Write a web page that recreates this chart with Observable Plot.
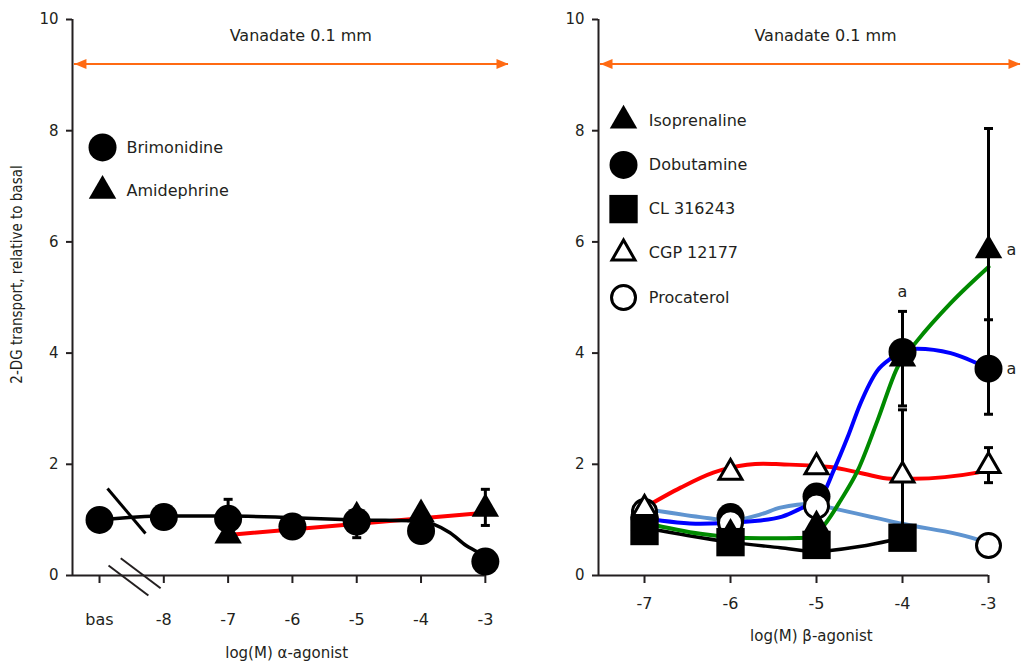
<!DOCTYPE html>
<html><head><meta charset="utf-8">
<script src="https://cdn.jsdelivr.net/npm/d3@7"></script>
<script src="https://cdn.jsdelivr.net/npm/@observablehq/plot@0.6"></script>
<style>
body{margin:0;background:#fff;}
#wrap{position:relative;width:1022px;height:671px;overflow:hidden;}
#left{position:absolute;left:0;top:0;}
#right{position:absolute;left:520px;top:0;}
</style></head><body><div id="wrap"><div id="left"></div><div id="right"></div></div>
<script>
// ---------------- shared ----------------
const yTicks = [0, 2, 4, 6, 8, 10];
const vanadateLabel = "Vanadate 0.1 mm";
const yAxisLabel = "2-DG transport, relative to basal";

// ---------------- left panel: α-agonists ----------------
const alphaTicks = [-9, -8, -7, -6, -5, -4, -3];
const alphaTickLabels = ["bas", "-8", "-7", "-6", "-5", "-4", "-3"];
const alphaXLabel = "log(M) α-agonist";
const alphaLegend = ["Brimonidine", "Amidephrine"];

const brimLogM = [-9, -8, -7, -6, -5, -4, -3];
const brimValue = [1.0, 1.05, 1.02, 0.88, 0.97, 0.8, 0.25];
const brimErrLow = [null, null, 1.02, null, 0.68, null, null];
const brimErrHigh = [null, null, 1.37, null, 0.97, null, null];

const amidLogM = [-7, -5, -4, -3];
const amidValue = [0.72, 1.06, 1.1, 1.2];
const amidErrLow = [null, null, null, 0.9];
const amidErrHigh = [null, null, null, 1.55];

const brimFitLogM = [-9, -8, -7, -6, -5, -4, -3.8, -3.55, -3.3, -3.1, -3];
const brimFitValue = [1.0, 1.07, 1.07, 1.04, 1.0, 0.98, 0.92, 0.77, 0.54, 0.4, 0.3];
const amidFitLogM = [-7, -3];
const amidFitValue = [0.73, 1.13];

// ---------------- right panel: β-agonists ----------------
const betaTicks = [-7, -6, -5, -4, -3];
const betaXLabel = "log(M) β-agonist";
const betaLegend = ["Isoprenaline", "Dobutamine", "CL 316243", "CGP 12177", "Procaterol"];

const isoLogM = [-7, -6, -5, -4, -3];
const isoValue = [0.95, 0.75, 0.9, 3.9, 5.85];
const isoErrLow = [null, null, null, 3.05, 3.65];
const isoErrHigh = [null, null, null, 4.75, 8.04];

const dobLogM = [-7, -6, -5, -4, -3];
const dobValue = [1.05, 1.05, 1.42, 4.02, 3.72];
const dobErrLow = [null, null, null, null, 2.9];
const dobErrHigh = [null, null, null, null, 4.6];

const clLogM = [-7, -6, -5, -4];
const clValue = [0.8, 0.6, 0.55, 0.68];
const clErrLow = [null, null, null, 0.68];
const clErrHigh = [null, null, null, 2.98];

const cgpLogM = [-7, -6, -5, -4, -3];
const cgpValue = [1.2, 1.85, 1.95, 1.8, 1.97];
const cgpErrLow = [null, null, null, null, 1.67];
const cgpErrHigh = [null, null, null, null, 2.3];

const procLogM = [-7, -6, -5, -3];
const procValue = [1.15, 0.95, 1.25, 0.54];

const isoFitLogM = [-7, -6.35, -5.65, -5.07, -4.87, -4.72, -4.52, -4.29, -4.06, -3.83, -3.44, -3];
const isoFitValue = [0.95, 0.75, 0.67, 0.68, 0.99, 1.35, 1.89, 2.79, 3.74, 4.22, 4.9, 5.55];
const dobFitLogM = [-7, -6.35, -5.65, -5.4, -5.19, -4.95, -4.8, -4.64, -4.49, -4.29, -4.14, -3.83, -3.44, -3];
const dobFitValue = [1.03, 0.93, 0.99, 1.06, 1.2, 1.4, 1.89, 2.48, 3.09, 3.69, 3.9, 4.08, 4.0, 3.72];
const clFitLogM = [-7, -6.5, -6, -5.42, -5, -4.84, -4.5, -4.14, -4];
const clFitValue = [0.86, 0.72, 0.6, 0.5, 0.43, 0.45, 0.52, 0.63, 0.68];
const cgpFitLogM = [-7, -6.58, -6.2, -6, -5.62, -5.42, -4.84, -4.45, -4.14, -3.87, -3.13, -3];
const cgpFitValue = [1.22, 1.58, 1.85, 1.94, 2.01, 2.0, 1.95, 1.83, 1.74, 1.74, 1.85, 1.89];
const procFitLogM = [-7, -6.35, -6, -5.65, -5.42, -5.03, -4.84, -4, -3.1, -3];
const procFitValue = [1.2, 1.05, 0.99, 1.1, 1.22, 1.29, 1.22, 0.93, 0.63, 0.57];

const sigLogM = [-4, -3, -3];
const sigValue = [4.75, 5.85, 3.72];
const sigText = ["a", "a", "a"];

// ---------------- helpers ----------------
const ink = "#231f20";
const font = "DejaVu Sans";
const zip = (xs, ys, lo, hi) => xs.map((x, i) => ({x, y: ys[i], lo: lo ? lo[i] : null, hi: hi ? hi[i] : null}));
const errs = rows => rows.filter(d => d.lo != null);

const capSymbol = {draw(c) { c.moveTo(-4.5, 0); c.lineTo(4.5, 0); }};
const headLeft = {draw(c) { c.moveTo(0, 0); c.lineTo(12, -5); c.lineTo(12, 5); c.closePath(); }};
const headRight = {draw(c) { c.moveTo(0, 0); c.lineTo(-12, -5); c.lineTo(-12, 5); c.closePath(); }};

const sty = {
  filledCircle: {symbol: "circle", r: 14, fill: "black", stroke: "none"},
  filledTriangle: {symbol: "triangle", r: 10.2, fill: "black", stroke: "none"},
  filledSquare: {symbol: "square", r: 16, fill: "black", stroke: "none"},
  openTriangle: {symbol: "triangle", r: 8.5, fill: "white", stroke: "black", strokeWidth: 3},
  openCircle: {symbol: "circle", r: 12, fill: "white", stroke: "black", strokeWidth: 3}
};

function errMarks(rows) {
  return [
    Plot.ruleX(rows, {x: "x", y1: "lo", y2: "hi", stroke: "black", strokeWidth: 3}),
    Plot.dot(rows, {x: "x", y: "hi", symbol: capSymbol, r: 1, fill: "none", stroke: "black", strokeWidth: 3}),
    Plot.dot(rows, {x: "x", y: "lo", symbol: capSymbol, r: 1, fill: "none", stroke: "black", strokeWidth: 3})
  ];
}
function fit(xs, ys, color, w) {
  return Plot.line(zip(xs, ys), {x: "x", y: "y", stroke: color, strokeWidth: w, curve: "monotone-x"});
}
function frameMarks(xmin, xAxisEnd, ticks, tickFmt, tickPad) {
  return [
    Plot.ruleX([{x: xmin, y1: 0, y2: 10}], {x: "x", y1: "y1", y2: "y2", stroke: ink, strokeWidth: 2}),
    Plot.ruleY([{y: 0, x1: xmin, x2: xAxisEnd}], {y: "y", x1: "x1", x2: "x2", stroke: ink, strokeWidth: 2}),
    Plot.axisY({ticks: yTicks, tickSize: 6, tickPadding: 8, fontSize: 15, strokeWidth: 2, stroke: ink, label: null}),
    Plot.axisX({ticks, tickFormat: tickFmt, tickSize: 8, tickPadding: tickPad, fontSize: 16, strokeWidth: 2, stroke: ink, label: null})
  ];
}
function arrowMarks(x1, x2) {
  return [
    Plot.ruleY([{y: 9.2, x1, x2}], {y: "y", x1: "x1", x2: "x2", stroke: "#ff6a13", strokeWidth: 2}),
    Plot.dot([{x: x1, y: 9.2}], {x: "x", y: "y", symbol: headLeft, r: 1, fill: "#ff6a13", stroke: "none"}),
    Plot.dot([{x: x2, y: 9.2}], {x: "x", y: "y", symbol: headRight, r: 1, fill: "#ff6a13", stroke: "none"})
  ];
}

// ---------------- left plot ----------------
const brim = zip(brimLogM, brimValue, brimErrLow, brimErrHigh);
const amid = zip(amidLogM, amidValue, amidErrLow, amidErrHigh);
const alphaDomain = [-9.42, -2.64];
const alphaLegendRows = alphaLegend.map((t, i) => ({t, y: 7.7 - i * 0.78}));

const left = Plot.plot({
  width: 520, height: 671,
  marginTop: 19, marginBottom: 96, marginLeft: 72, marginRight: 12,
  style: {fontFamily: font, color: ink, background: "white", overflow: "visible"},
  x: {domain: alphaDomain},
  y: {domain: [0, 10]},
  marks: [
    ...frameMarks(alphaDomain[0], -3, alphaTicks, d => alphaTickLabels[alphaTicks.indexOf(d)], 30),
    Plot.text([vanadateLabel], {x: () => -5.87, text: d => d, frameAnchor: "top", dy: 10, fontSize: 16, fill: ink}),
    ...arrowMarks(-9.39, alphaDomain[1]),
    Plot.text([yAxisLabel], {text: d => d, frameAnchor: "left", textAnchor: "middle", rotate: -90, dx: -55, dy: -23, fontSize: 15, fontFamily: "'DejaVu Sans Condensed', 'Liberation Sans Narrow', 'DejaVu Sans'", fontStretch: "condensed", fill: ink}),
    Plot.text([alphaXLabel], {x: () => -6.09, text: d => d, frameAnchor: "bottom", dy: 82, fontSize: 15, fill: ink}),
    // axis break marks
    Plot.link([{x1: -8.876, y1: 1.565, x2: -8.285, y2: 0.755}], {x1: "x1", y1: "y1", x2: "x2", y2: "y2", stroke: "black", strokeWidth: 3}),
    Plot.link([{x1: -8.86, y1: 0.18, x2: -8.24, y2: -0.36}, {x1: -8.67, y1: 0.31, x2: -8.05, y2: -0.23}], {x1: "x1", y1: "y1", x2: "x2", y2: "y2", stroke: ink, strokeWidth: 2}),
    fit(amidFitLogM, amidFitValue, "#ff0000", 4),
    fit(brimFitLogM, brimFitValue, "black", 3.5),
    ...errMarks(errs(brim)),
    ...errMarks(errs(amid)),
    Plot.dot(amid, {x: "x", y: "y", ...sty.filledTriangle}),
    Plot.dot(brim, {x: "x", y: "y", ...sty.filledCircle}),
    // legend
    Plot.dot(alphaLegendRows.slice(0, 1), {x: () => -8.953, y: "y", ...sty.filledCircle}),
    Plot.dot(alphaLegendRows.slice(1, 2), {x: () => -8.953, y: "y", ...sty.filledTriangle}),
    Plot.text(alphaLegendRows, {x: () => -8.58, y: "y", text: "t", textAnchor: "start", fontSize: 16, fill: ink})
  ]
});
document.getElementById("left").append(left);

// ---------------- right plot ----------------
const iso = zip(isoLogM, isoValue, isoErrLow, isoErrHigh);
const dob = zip(dobLogM, dobValue, dobErrLow, dobErrHigh);
const cl = zip(clLogM, clValue, clErrLow, clErrHigh);
const cgp = zip(cgpLogM, cgpValue, cgpErrLow, cgpErrHigh);
const proc = zip(procLogM, procValue);
const betaDomain = [-7.535, -2.628];
const betaLegendRows = betaLegend.map((t, i) => ({t, y: 8.18 - i * 0.795}));
const betaSymbols = [sty.filledTriangle, sty.filledCircle, sty.filledSquare, sty.openTriangle, sty.openCircle];
const sig = sigLogM.map((x, i) => ({x, y: sigValue[i], t: sigText[i]}));

const right = Plot.plot({
  width: 502, height: 671,
  marginTop: 19, marginBottom: 96, marginLeft: 78, marginRight: 2,
  style: {fontFamily: font, color: ink, background: "white", overflow: "visible"},
  x: {domain: betaDomain},
  y: {domain: [0, 10]},
  marks: [
    ...frameMarks(betaDomain[0], -3, betaTicks, d => String(d), 14),
    Plot.text([vanadateLabel], {x: () => -4.895, text: d => d, frameAnchor: "top", dy: 10, fontSize: 16, fill: ink}),
    ...arrowMarks(-7.512, betaDomain[1]),
    Plot.text([betaXLabel], {x: () => -5.06, text: d => d, frameAnchor: "bottom", dy: 65, fontSize: 15, fill: ink}),
    fit(cgpFitLogM, cgpFitValue, "#ff0000", 4),
    fit(procFitLogM, procFitValue, "#5f94d0", 4),
    fit(clFitLogM, clFitValue, "black", 3.5),
    fit(isoFitLogM, isoFitValue, "#008a00", 4),
    fit(dobFitLogM, dobFitValue, "#0000ff", 4),
    ...errMarks(errs(cl)),
    ...errMarks(errs(iso)),
    ...errMarks(errs(dob)),
    ...errMarks(errs(cgp)),
    Plot.dot(dob, {x: "x", y: "y", ...sty.filledCircle}),
    Plot.dot(proc, {x: "x", y: "y", ...sty.openCircle}),
    Plot.dot(iso, {x: "x", y: "y", ...sty.filledTriangle}),
    Plot.dot(cl, {x: "x", y: "y", ...sty.filledSquare}),
    Plot.dot(cgp, {x: "x", y: "y", ...sty.openTriangle}),
    // significance letters
    Plot.text(sig.slice(0, 1), {x: "x", y: "y", text: "t", dy: -20, fontSize: 16, fill: ink}),
    Plot.text(sig.slice(1), {x: "x", y: "y", text: "t", dx: 23, fontSize: 16, fill: ink}),
    // legend
    ...betaLegendRows.map((row, i) => Plot.dot([row], {x: () => -7.244, y: "y", ...betaSymbols[i]})),
    Plot.text(betaLegendRows, {x: () => -6.95, y: "y", text: "t", textAnchor: "start", fontSize: 16, fill: ink})
  ]
});
document.getElementById("right").append(right);
</script>
</body></html>
